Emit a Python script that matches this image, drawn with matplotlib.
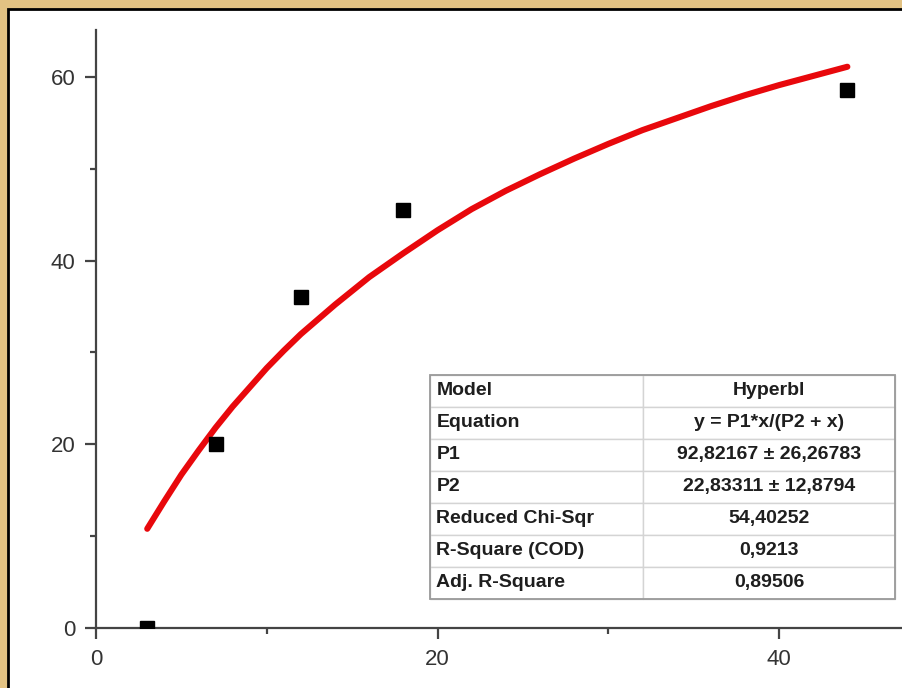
import matplotlib.pyplot as plt
from matplotlib.patches import Rectangle

# measured points
x_data = [3, 7, 12, 18, 44]
y_data = [0, 20, 36, 45.5, 58.6]

# fitted curve
x_fit = [3, 4, 5, 6, 7, 8, 9, 10, 11, 12, 14, 16, 18, 20, 22, 24, 26,
         28, 30, 32, 34, 36, 38, 40, 42, 44]
y_fit = [10.8, 13.8, 16.7, 19.3, 21.8, 24.1, 26.2, 28.3, 30.2, 32.0, 35.2,
         38.2, 40.8, 43.3, 45.6, 47.6, 49.4, 51.1, 52.7, 54.2, 55.5, 56.8,
         58.0, 59.1, 60.1, 61.1]

table_labels = ["Model", "Equation", "P1", "P2", "Reduced Chi-Sqr",
                "R-Square (COD)", "Adj. R-Square"]
table_values = ["Hyperbl", "y = P1*x/(P2 + x)", "92,82167 \u00b1 26,26783",
                "22,83311 \u00b1 12,8794", "54,40252", "0,9213", "0,89506"]

plt.rcParams["font.family"] = ["Liberation Sans", "DejaVu Sans"]

fig = plt.figure(figsize=(9.02, 6.88), dpi=100, facecolor="#e2c283")
# white panel with a black frame, kept behind the axes
fig.patches.append(Rectangle((8 / 902, -0.1), 1.2, 1.1 - 9 / 688,
                             transform=fig.transFigure, facecolor="white",
                             edgecolor="black", linewidth=2, zorder=-10))

ax = fig.add_axes([96 / 902, 60 / 688, 806 / 902, 598 / 688])
ax.set_facecolor("none")

ax.plot(x_fit, y_fit, color="#e8080c", linewidth=4.4, solid_capstyle="round",
        solid_joinstyle="round", zorder=2)
ax.plot(x_data, y_data, linestyle="none", marker="s", markersize=9.5,
        color="black", zorder=3)

ax.set_xlim(0, 47.2)
ax.set_ylim(0, 65.1)
ax.spines["top"].set_visible(False)
ax.spines["right"].set_visible(False)
for s in ["left", "bottom"]:
    ax.spines[s].set_color("#444444")
    ax.spines[s].set_linewidth(1.6)

ax.set_xticks([0, 20, 40])
ax.set_xticks([10, 30], minor=True)
ax.set_yticks([0, 20, 40, 60])
ax.set_yticks([10, 30, 50], minor=True)
ax.tick_params(which="major", length=8, width=1.6, color="#444444",
               labelsize=16, labelcolor="#333333", pad=7)
ax.tick_params(which="minor", length=4, width=1.6, color="#444444")

tbl = ax.table(cellText=[[a, b] for a, b in zip(table_labels, table_values)],
               colWidths=[0.458, 0.542],
               bbox=[0.4144, 0.0485, 0.5769, 0.3746])
tbl.auto_set_font_size(False)
for (r, c), cell in tbl.get_celld().items():
    cell.set_edgecolor("#d4d4d4")
    cell.set_linewidth(1.0)
    cell.get_text().set_fontsize(14)
    cell.get_text().set_fontweight("bold")
    cell.get_text().set_color("#1e1e1e")
    if c == 0:
        cell.get_text().set_ha("left")
        cell.PAD = 0.03
    else:
        cell.get_text().set_ha("center")
ax.add_patch(Rectangle((0.4144, 0.0485), 0.5769, 0.3746, transform=ax.transAxes,
                       fill=False, edgecolor="#9a9a9a", linewidth=1.3, zorder=5))

fig.savefig("out.png", dpi=100, facecolor=fig.get_facecolor())
